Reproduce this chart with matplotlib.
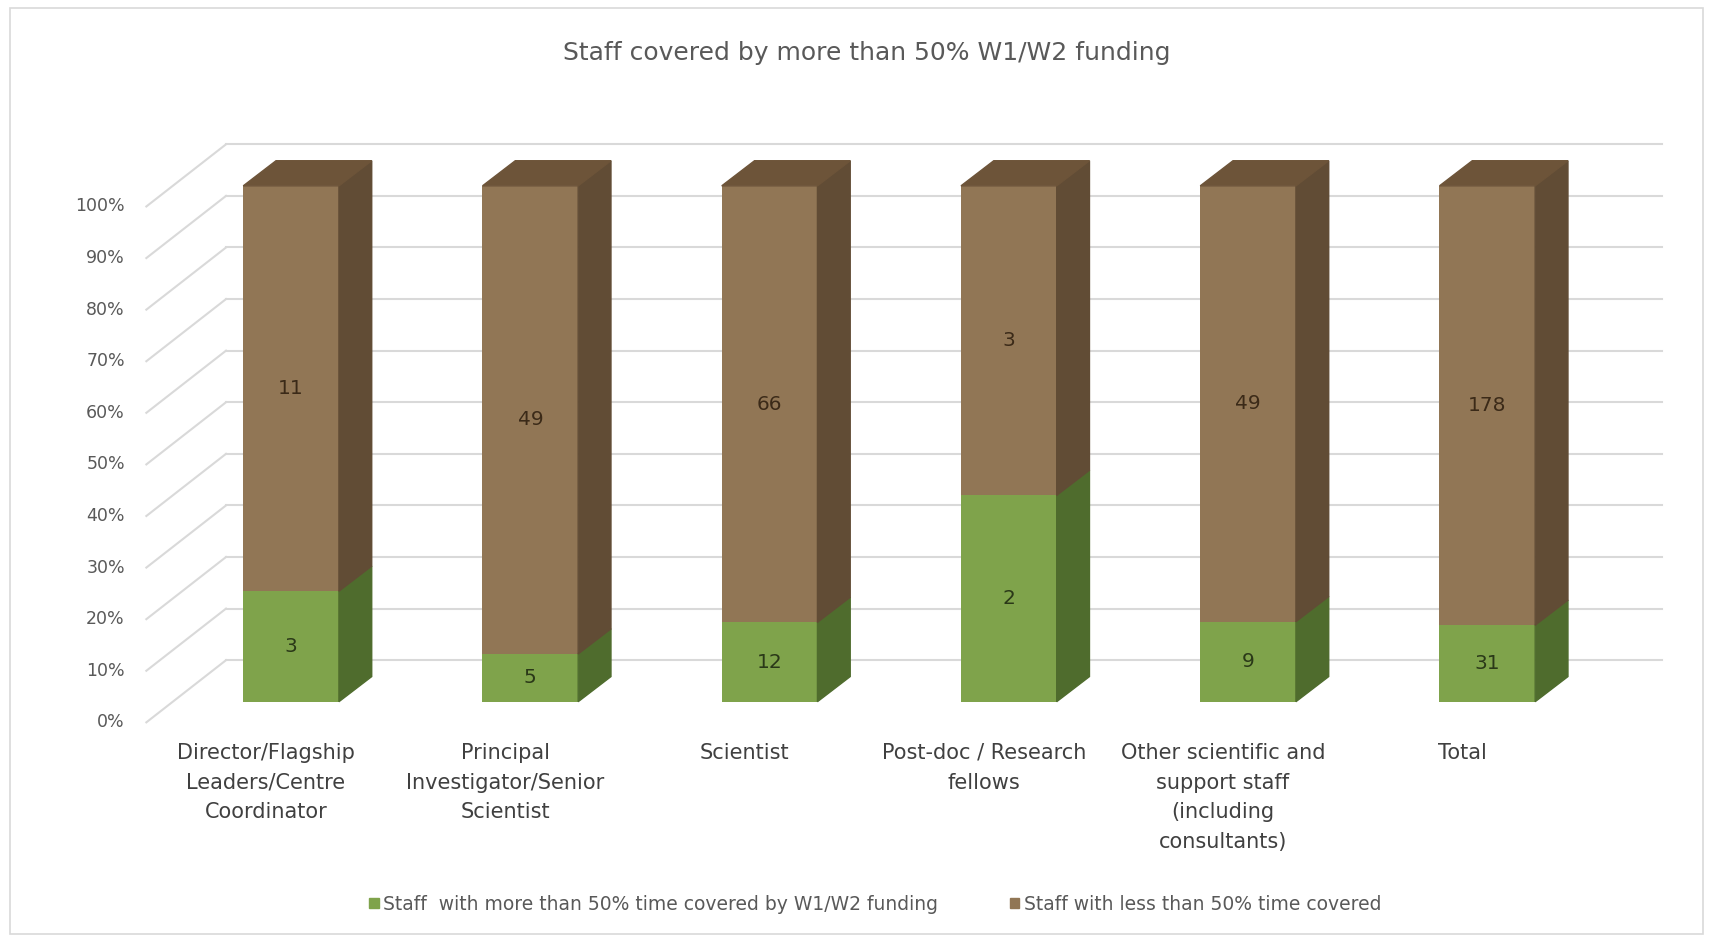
import matplotlib.pyplot as plt
from matplotlib.patches import Patch, Rectangle

categories = ['Director/Flagship\nLeaders/Centre\nCoordinator',
              'Principal\nInvestigator/Senior\nScientist',
              'Scientist',
              'Post-doc / Research\nfellows',
              'Other scientific and\nsupport staff\n(including\nconsultants)',
              'Total']
more_than_50 = [3, 5, 12, 2, 9, 31]
less_than_50 = [11, 49, 66, 3, 49, 178]
yticks = [0, 10, 20, 30, 40, 50, 60, 70, 80, 90, 100]
legend_labels = ['Staff  with more than 50% time covered by W1/W2 funding',
                 'Staff with less than 50% time covered']
title = 'Staff covered by more than 50% W1/W2 funding'

# colours
green_front, green_side = '#7fa34b', '#4f6c2d'
brown_front, brown_side, brown_top = '#917655', '#614c35', '#6d5439'
grid_col = '#d9d9d9'
text_col = '#595959'

# 3d offsets in data units (x: category, y: percent)
bar_dx, bar_dy = 0.137, 4.87        # depth of a bar
back_dx, back_dy = 0.228, 8.05      # front of bar -> back wall
lab_dx, lab_dy = -0.105, -4.0       # front of bar -> front of floor
half_w = 0.2

fig = plt.figure(figsize=(17.13, 9.40), dpi=100)
ax = fig.add_axes([0.1001, 0.2535, 0.838, 0.5488])
ax.set_xlim(0, len(categories))
ax.set_ylim(0, 100)
ax.axis('off')

# outer frame
fig.patches.append(Rectangle((0.006, 0.006), 0.988, 0.985, transform=fig.transFigure,
                             fill=False, edgecolor='#d9d9d9', linewidth=1.2))

n = len(categories)
# back wall gridlines and left wall diagonals
for p in yticks:
    ax.plot([back_dx, n + back_dx], [p + back_dy, p + back_dy], color=grid_col,
            lw=1.5, clip_on=False, zorder=1)
    ax.plot([lab_dx, back_dx], [p + lab_dy, p + back_dy], color=grid_col,
            lw=1.5, clip_on=False, zorder=1)
    ax.text(lab_dx - 0.09, p + lab_dy, f'{p}%', ha='right', va='center',
            fontsize=12.5, color=text_col)

# bars
for i in range(n):
    tot = more_than_50[i] + less_than_50[i]
    g = more_than_50[i] / tot * 100
    x0, x1 = i + 0.5 - half_w, i + 0.5 + half_w
    ax.bar(i + 0.5, g, width=2 * half_w, color=green_front, zorder=3)
    ax.bar(i + 0.5, 100 - g, bottom=g, width=2 * half_w, color=brown_front, zorder=3)
    ax.fill([x1, x1 + bar_dx, x1 + bar_dx, x1], [0, bar_dy, g + bar_dy, g],
            color=green_side, zorder=3, clip_on=False)
    ax.fill([x1, x1 + bar_dx, x1 + bar_dx, x1], [g, g + bar_dy, 100 + bar_dy, 100],
            color=brown_side, zorder=3, clip_on=False)
    ax.fill([x0, x1, x1 + bar_dx, x0 + bar_dx], [100, 100, 100 + bar_dy, 100 + bar_dy],
            color=brown_top, zorder=3, clip_on=False)
    ax.text(i + 0.5, g / 2, str(more_than_50[i]), ha='center', va='center',
            fontsize=14.5, color='#2a3818', zorder=4)
    ax.text(i + 0.5, (g + 100) / 2, str(less_than_50[i]), ha='center', va='center',
            fontsize=14.5, color='#3b2a18', zorder=4)
    ax.text(i + 0.5 + lab_dx, lab_dy - 4.0, categories[i], ha='center', va='top',
            fontsize=15, color='#404040', linespacing=1.6)

fig.text(0.506, 0.944, title, ha='center', va='center', fontsize=18, color=text_col)

handles = [Patch(color=green_front), Patch(color=brown_front)]
fig.legend(handles, legend_labels, loc='center', bbox_to_anchor=(0.511, 0.038), ncol=2,
           frameon=False, fontsize=13.5, handlelength=0.5, handleheight=0.5,
           handletextpad=0.25, columnspacing=3.8, labelcolor=text_col)

fig.savefig('out.png', dpi=100)
